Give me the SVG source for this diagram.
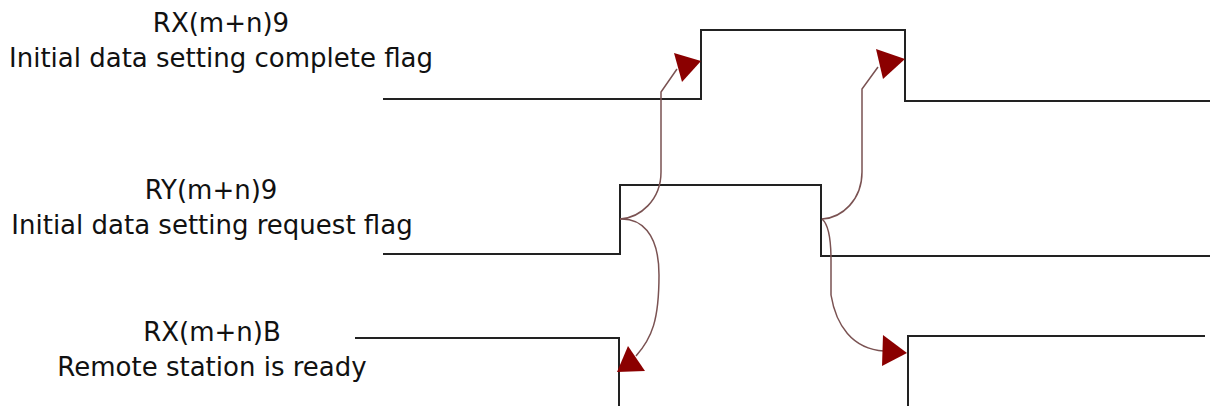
<svg xmlns="http://www.w3.org/2000/svg" width="1214" height="406" viewBox="0 0 1214 406">
<style>
.lbl{font-family:"DejaVu Sans",Verdana,sans-serif;font-size:26px;fill:#111;text-anchor:middle}
.sig{fill:none;stroke:#222;stroke-width:2}
.arc{fill:none;stroke:#7a5252;stroke-width:1.5}
.head{fill:#8b0000}
</style>
<rect width="1214" height="406" fill="#fff"/>
<g id="sig-rx9">
<text class="lbl" x="221" y="32">RX(m+n)9</text>
<text class="lbl" x="221" y="67">Initial data setting complete flag</text>
<path class="sig" d="M383,99 H701 V30 H905 V101 H1210"/>
</g>
<g id="sig-ry9">
<text class="lbl" x="211" y="199">RY(m+n)9</text>
<text class="lbl" x="212" y="234">Initial data setting request flag</text>
<path class="sig" d="M383,254 H620 V185 H821 V256 H1210"/>
</g>
<g id="sig-rxb">
<text class="lbl" x="212" y="341">RX(m+n)B</text>
<text class="lbl" x="212" y="376">Remote station is ready</text>
<path class="sig" d="M355,338 H619 V406"/>
<path class="sig" d="M908,406 V336 H1205"/>
</g>
<g id="connectors">
<path class="arc" d="M620,219 C640,218 661,200 661,172 L661,92 L677,69"/>
<polygon class="head" points="674,53 701,61 682,82"/>
<path class="arc" d="M620,219 C640,218 659,232 659,275 C659,320 652,338 636,356"/>
<polygon class="head" points="628,346 617,372 645,371"/>
<path class="arc" d="M822,219 C842,218 862,200 862,172 L862,89 L878,67"/>
<polygon class="head" points="876,49 905,59 883,79"/>
<path class="arc" d="M822,219 C828,224 831,235 831,260 V295 C836,325 852,349 884,351"/>
<polygon class="head" points="883,335 907,353 882,366"/>
</g>
</svg>
